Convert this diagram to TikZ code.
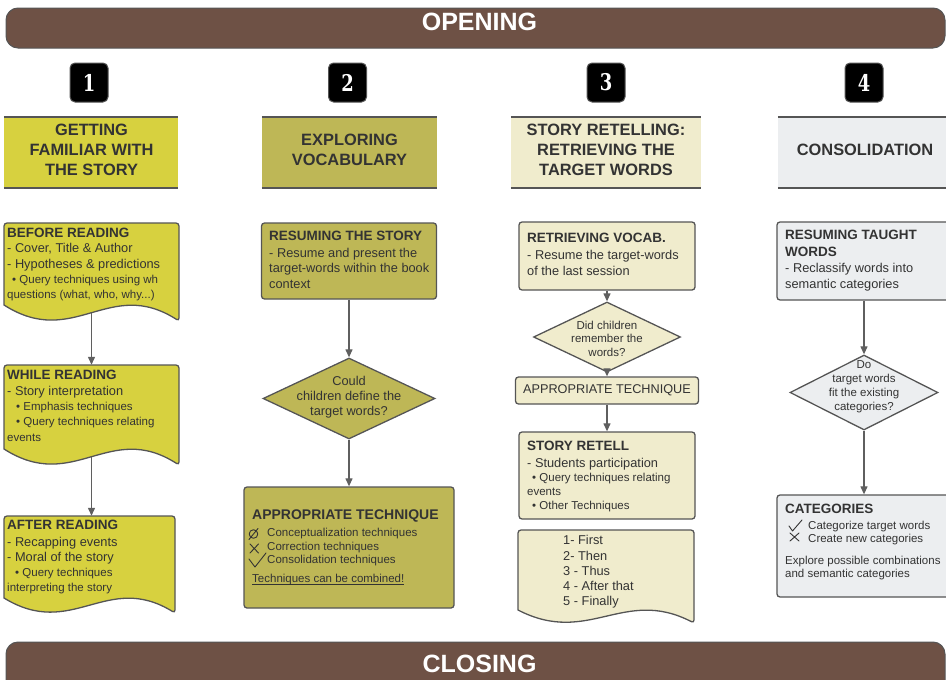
\documentclass[tikz,border=0pt]{standalone}
\usepackage{fontspec}
\setmainfont{Liberation Sans}
\newfontfamily\numfont{DejaVu Serif}
\usetikzlibrary{shapes.geometric,arrows.meta}
\definecolor{cbrown}{RGB}{110,81,69}
\definecolor{cyel}{RGB}{215,209,63}
\definecolor{coli}{RGB}{190,183,86}
\definecolor{ccream}{RGB}{240,236,205}
\definecolor{cgray}{RGB}{236,238,240}
\definecolor{ctext}{RGB}{51,51,51}
\definecolor{cline}{RGB}{85,85,85}
\definecolor{carrow}{RGB}{95,95,95}
\newcommand\mytitle[1]{{\fontsize{13.5}{15}\selectfont\bfseries #1}}
\newcommand\mysmall{\fontsize{11.5}{13}\selectfont}
\newcommand\myul[1]{\begingroup\setbox0=\hbox{#1}\rlap{\rule[-1.7pt]{\wd0}{0.7pt}}\box0\endgroup}
\begin{document}
\begin{tikzpicture}[x=1pt,y=-1pt,
  every node/.style={text=ctext},
  bar/.style={draw=cline, line width=1pt, fill=cbrown, rounded corners=12pt, inner sep=0},
  bartext/.style={text=white, font=\bfseries\fontsize{25}{25}\selectfont, inner sep=0},
  badge/.style={draw=cline, line width=1pt, fill=black, rounded corners=5pt, minimum width=38pt, minimum height=39pt, inner sep=0, text=white, font=\numfont\bfseries\fontsize{23}{23}\selectfont},
  hdrbox/.style={draw=none, inner sep=0, minimum height=71pt},
  hdrline/.style={draw=cline, line width=1.5pt},
  hdrtext/.style={align=center, inner sep=0, font=\bfseries\fontsize{16.4}{20}\selectfont},
  stepbox/.style={draw=cline, line width=1.3pt, rounded corners=3pt, inner sep=0},
  ghost/.style={draw=none, inner sep=0},
  docline/.style={draw=cline, line width=1.3pt},
  decbox/.style={shape=diamond, draw=cline, line width=1.3pt, inner sep=0},
  body/.style={anchor=north west, inner sep=0, align=left, font=\fontsize{12.8}{15.2}\selectfont},
  ctr/.style={align=center, inner sep=0, font=\fontsize{11.5}{13.8}\selectfont},
  arr/.style={draw=carrow, line width=1.2pt, -{Triangle[length=8pt,width=7pt]}},
  icon/.style={draw=ctext, line width=0.9pt, line cap=round, line join=round},
]
\useasboundingbox (0,0) rectangle (946,680);

% bars
\node[bar, minimum width=939pt, minimum height=40pt] (openbar) at (475.5,28) {};
\node[bartext] (opentxt) at (479.5,21.5) {OPENING};
\node[bar, minimum width=939pt, minimum height=60pt] (closebar) at (475.5,672) {};
\node[bartext] (closetxt) at (479.5,664) {CLOSING};

% badges
\node[badge] (b1) at (89,82.5) {\scalebox{0.78}[1]{1}};
\node[badge] (b2) at (347.5,82.5) {\scalebox{0.78}[1]{2}};
\node[badge] (b3) at (606,82.5) {\scalebox{0.78}[1]{3}};
\node[badge] (b4) at (864,82.5) {\scalebox{0.78}[1]{4}};

% headers
\node[hdrbox, fill=cyel, minimum width=174pt] (h1) at (91,152.5) {};
\node[hdrbox, fill=coli, minimum width=175pt] (h2) at (349.5,152.5) {};
\node[hdrbox, fill=ccream, minimum width=190pt] (h3) at (606,152.5) {};
\node[hdrbox, fill=cgray, minimum width=172pt] (h4) at (864,152.5) {};
\foreach \h in {h1,h2,h3,h4}{
  \draw[hdrline] (\h.north west) -- (\h.north east) (\h.south west) -- (\h.south east);
}
\node[hdrtext] (h1t) at (91.5,150) {GETTING\\FAMILIAR WITH\\THE STORY};
\node[hdrtext] (h2t) at (349.5,150) {EXPLORING\\VOCABULARY};
\node[hdrtext] (h3t) at (606,150) {STORY RETELLING:\\RETRIEVING THE\\TARGET WORDS};
\node[hdrtext] (h4t) at (865,150) {CONSOLIDATION};

% ---------- column 1
\node[ghost, minimum width=175pt, minimum height=90pt] (br) at (91.5,268) {};
\draw[docline, fill=cyel] (4,305) [rounded corners=3pt] -- (4,223) -- (179,223) -- (179,321) [sharp corners] .. controls (109,276.2) and (74,349.8) .. (4,305) -- cycle;
\node[body] (brt) at (7,228) {\mytitle{BEFORE READING}\\- Cover, Title \& Author\\- Hypotheses \& predictions\\\mysmall\hspace{5pt}• Query techniques using wh\\\mysmall questions (what, who, why...)};

\node[ghost, minimum width=175pt, minimum height=92pt] (wr) at (91.5,411) {};
\draw[docline, fill=cyel] (4,449) [rounded corners=3pt] -- (4,365) -- (179,365) -- (179,465) [sharp corners] .. controls (109,420.2) and (74,493.8) .. (4,449) -- cycle;
\node[body] (wrt) at (7,369.5) {\mytitle{WHILE READING}\\[1.2pt]- Story interpretation\\\mysmall\hspace{9pt}• Emphasis techniques\\\mysmall\hspace{9pt}• Query techniques relating\\\mysmall events};

\node[ghost, minimum width=175pt, minimum height=89.5pt] (ar) at (91.5,560.75) {};
\draw[docline, fill=cyel] (4,598) [rounded corners=3pt] -- (4,516) -- (175,516) -- (175,613) [sharp corners] .. controls (106.6,571) and (72.4,640) .. (4,598) -- cycle;
\node[body] (art) at (7,520.2) {\mytitle{AFTER READING}\\[1.2pt]- Recapping events\\- Moral of the story\\\mysmall\hspace{8pt}• Query techniques\\\mysmall interpreting the story};

% ---------- column 2
\node[stepbox, fill=coli, minimum width=175pt, minimum height=76pt] (rs) at (349,261) {};
\node[body] (rst) at (269,231) {\mytitle{RESUMING THE STORY}\\[1.8pt]- Resume and present the\\target-words within the book\\context};
\node[decbox, fill=coli, minimum width=172pt, minimum height=81pt] (d2) at (349,398.5) {};
\node[ctr, font=\fontsize{12.8}{15}\selectfont] (d2t) at (349,397) {Could\\children define the\\target words?};
\node[stepbox, fill=coli, minimum width=210pt, minimum height=121pt] (at) at (349,547.5) {};
\node[body, font=\fontsize{11.5}{13.5}\selectfont] (att) at (252,510) {{\fontsize{14}{14}\selectfont\bfseries APPROPRIATE TECHNIQUE}\\[3.5pt]\hspace{15pt}Conceptualization techniques\\\hspace{15pt}Correction techniques\\\hspace{15pt}Consolidation techniques\\[5.5pt]\myul{Techniques can be combined!}};
% icons
\draw[icon] (253.5,534) circle (4.3);
\draw[icon] (249,539.5) -- (258,528.5);
\draw[icon] (250,544) -- (258.5,553) (250,553) -- (258.5,544);
\draw[icon] (249,559) -- (255,567) -- (266,553);

% ---------- column 3
\node[stepbox, fill=ccream, minimum width=176pt, minimum height=68pt] (rv) at (607,256) {};
\node[body, font=\fontsize{12.8}{15.8}\selectfont] (rvt) at (527,233.2) {\mytitle{RETRIEVING VOCAB.}\\[1.2pt]- Resume the target-words\\of the last session};
\node[decbox, fill=ccream, minimum width=147pt, minimum height=70pt] (d3) at (607,337) {};
\node[ctr, font=\fontsize{11.5}{13.5}\selectfont] (d3t) at (607,338.5) {Did children\\remember the\\words?};
\node[stepbox, fill=ccream, minimum width=183pt, minimum height=27pt, font=\fontsize{12.7}{14}\selectfont] (apt) at (607,390.5) {APPROPRIATE TECHNIQUE};
\node[stepbox, fill=ccream, minimum width=176pt, minimum height=87pt] (sr) at (607,475.5) {};
\node[body, font=\fontsize{11.5}{14}\selectfont] (srt) at (527,441.2) {\mytitle{STORY RETELL}\\[3pt]{\fontsize{12.8}{14}\selectfont - Students participation}\\\hspace{5pt}• Query techniques relating\\events\\\hspace{5pt}• Other Techniques};
\draw[docline, fill=ccream] (518,610) [rounded corners=3pt] -- (518,530) -- (694,530) -- (694,623) [sharp corners] .. controls (623.6,586.6) and (588.4,646.4) .. (518,610) -- cycle;
\node[body] (dct) at (563,535.4) {1- First\\2- Then\\3 - Thus\\4 - After that\\5 - Finally};

% ---------- column 4
\node[stepbox, fill=cgray, minimum width=174pt, minimum height=78pt] (rtw) at (864,261) {};
\node[body, font=\fontsize{12.8}{16}\selectfont] (rtwt) at (785,230.2) {\mytitle{RESUMING TAUGHT}\\[1pt]\mytitle{WORDS}\\- Reclassify words into\\semantic categories};
\node[decbox, fill=cgray, minimum width=148pt, minimum height=75pt] (d4) at (864,392.5) {};
\node[ctr, font=\fontsize{11.5}{14}\selectfont] (d4t) at (864,387) {Do\\target words\\fit the existing\\categories?};
\node[stepbox, fill=cgray, minimum width=174pt, minimum height=102pt] (cat) at (864,546) {};
\node[body, font=\fontsize{11.5}{13.5}\selectfont] (catt) at (785,504.2) {\mytitle{CATEGORIES}\\[2.5pt]\hspace{23pt}Categorize target words\\[-1pt]\hspace{23pt}Create new categories\\[8.5pt]Explore possible combinations\\and semantic categories};
% icons
\draw[icon] (789,526) -- (792.5,531) -- (802,520);
\draw[icon] (790,533) -- (799,541) (790,541) -- (799,533);

% ---------- connectors
\draw[arr] (br.south) -- (wr.north);
\draw[arr] (wr.south) -- (ar.north);
\draw[arr] (rs.south) -- (d2.north);
\draw[arr] (d2.south) -- (at.north);
\draw[arr] (rv.south) -- (d3.north);
\draw[arr] (d3.south) -- (apt.north);
\draw[arr] (apt.south) -- (sr.north);
\draw[arr] (rtw.south) -- (d4.north);
\draw[arr] (d4.south) -- (cat.north);
\end{tikzpicture}
\end{document}
